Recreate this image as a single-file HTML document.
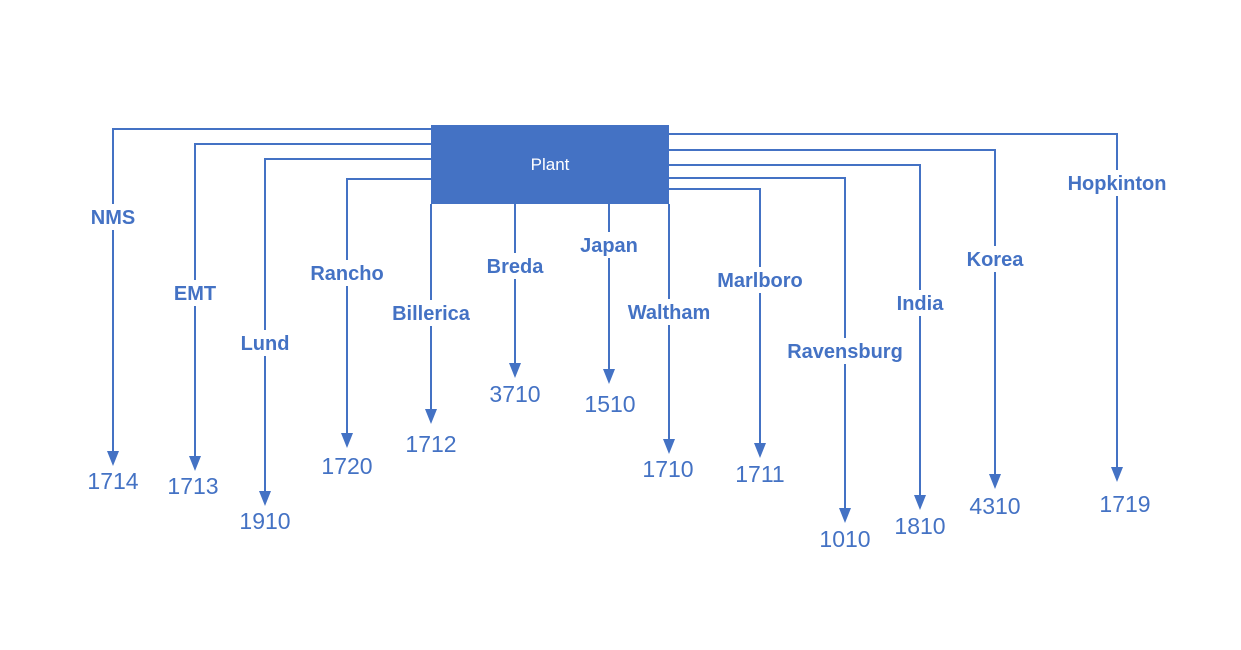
<!DOCTYPE html>
<html><head><meta charset="utf-8"><style>
html,body{margin:0;padding:0;background:#fff;}
svg{display:block;font-family:"Liberation Sans",sans-serif;}
</style></head><body>
<svg id="chart" width="1241" height="650" viewBox="0 0 1241 650" xmlns="http://www.w3.org/2000/svg">
<rect x="431" y="125" width="238" height="79" fill="#4472C4"/>
<text x="550" y="170" text-anchor="middle" fill="#fff" font-size="17">Plant</text>
</svg>
<script>
const names=["NMS","EMT","Lund","Rancho","Billerica","Breda","Japan","Waltham","Marlboro","Ravensburg","India","Korea","Hopkinton"];
const codes=["1714","1713","1910","1720","1712","3710","1510","1710","1711","1010","1810","4310","1719"];
const sides=["L","L","L","L","B","B","B","B","R","R","R","R","R"];
const startY=[129,144,159,179,204,204,204,204,189,178,165,150,134];
const colX=[113,195,265,347,431,515,609,669,760,845,920,995,1117];
const endY=[465,470,505,447,423,377,383,453,457,522,509,488,481];
const labelY=[217,293,343,273,313,266,245,312,280,351,303,259,183];
const valueY=[481,486,521,466,444,394,404,469,474,539,526,506,504];
const valueX=[113,193,265,347,431,515,610,668,760,845,920,995,1125];
const svg=document.getElementById('chart');
const NS="http://www.w3.org/2000/svg";
const C="#4472C4";
function mk(t,a){const e=document.createElementNS(NS,t);for(const k in a)e.setAttribute(k,a[k]);svg.appendChild(e);return e;}
names.forEach((n,i)=>{
  const x=colX[i],y0=startY[i],y1=endY[i];
  let d;
  if(sides[i]==="L") d=`M431 ${y0} H${x} V${y1-12}`;
  else if(sides[i]==="R") d=`M669 ${y0} H${x} V${y1-12}`;
  else d=`M${x} 204 V${y1-12}`;
  const p=mk('path',{d:d,fill:'none',stroke:C,'stroke-width':2});
  
  
  const a=mk('polygon',{points:`${x-6},${y1-14} ${x+6},${y1-14} ${x},${y1+1}`,fill:C});
  
  
  const w=n.length*12+10;
  const bg=mk('rect',{x:x-w/2,y:labelY[i]-13,width:w,height:26,fill:'#fff'});
  
  
  const t=mk('text',{x:x,y:labelY[i]+7,'text-anchor':'middle',fill:C,'font-size':20,'font-weight':'bold'});
  t.textContent=n;
  
  
  const v=mk('text',{x:valueX[i],y:valueY[i]+8,'text-anchor':'middle',fill:C,'font-size':23});
  v.textContent=codes[i];
  
  
});
</script>
</body></html>
